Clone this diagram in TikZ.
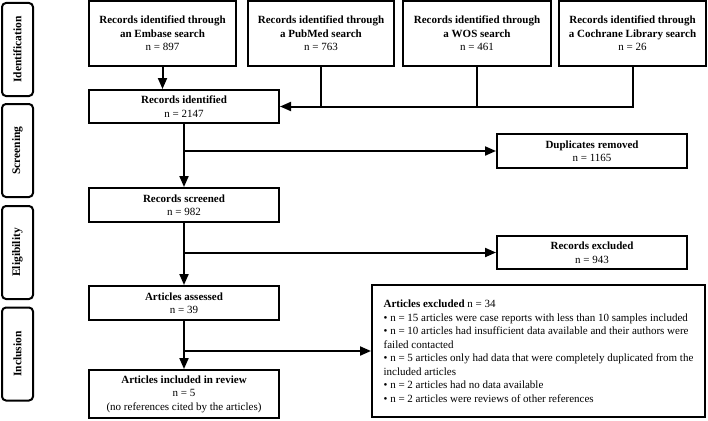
\documentclass[tikz,border=0pt]{standalone}
\usepackage{fontspec}
\setmainfont{Liberation Serif}
\usetikzlibrary{arrows.meta}
\begin{document}
\begin{tikzpicture}[x=1pt,y=-1pt,
  every node/.style={font=\fontsize{11}{13.5}\selectfont},
  box/.style={draw, line width=2pt, inner sep=2pt, align=center, anchor=center},
  side/.style={draw, line width=2pt, rounded corners=4pt, minimum width=31pt, minimum height=93pt, inner sep=0pt, anchor=center},
  lbl/.style={rotate=90, font=\fontsize{11.5}{13.5}\selectfont\bfseries},
  conn/.style={line width=2pt},
  arr/.style={conn, -{Triangle[length=11pt,width=9pt]}}]
\useasboundingbox (0,0) rectangle (708,420);
% side labels
\node[side] (sid) at (17.5,49.5) {};
\node[lbl] (sidt) at (sid.center) {Identification};
\node[side] (ssc) at (17.5,150.5) {};
\node[lbl] (ssct) at (ssc.center) {Screening};
\node[side] (sel) at (17.5,252.5) {};
\node[lbl] (selt) at (sel.center) {Eligibility};
\node[side] (sin) at (17.5,354) {};
\node[lbl] (sint) at (sin.center) {Inclusion};
% top boxes
\node[box, minimum width=147pt, minimum height=65pt] (emb) at (162.5,33.5) {\textbf{Records identified through}\\\textbf{an Embase search}\\n = 897};
\node[box, minimum width=146pt, minimum height=65pt] (pub) at (321,33.5) {\textbf{Records identified through}\\\textbf{a PubMed search}\\n = 763};
\node[box, minimum width=148pt, minimum height=65pt] (wos) at (477,33.5) {\textbf{Records identified through}\\\textbf{a WOS search}\\n = 461};
\node[box, minimum width=147pt, minimum height=65pt] (coch) at (632.5,33.5) {\textbf{Records identified through}\\\textbf{a Cochrane Library search}\\n = 26};
% main column
\node[box, minimum width=190pt, minimum height=33pt] (rid) at (184,106.5) {\textbf{Records identified}\\n = 2147};
\node[box, minimum width=190pt, minimum height=34pt] (rsc) at (184,205) {\textbf{Records screened}\\n = 982};
\node[box, minimum width=190pt, minimum height=34pt] (aas) at (184,303) {\textbf{Articles assessed}\\n = 39};
\node[box, minimum width=190pt, minimum height=48pt] (ain) at (184,394) {\textbf{Articles included in review}\\n = 5\\(no references cited by the articles)};
% right column
\node[box, minimum width=190pt, minimum height=34pt] (dup) at (592,151) {\textbf{Duplicates removed}\\n = 1165};
\node[box, minimum width=190pt, minimum height=33pt] (rex) at (592,252.5) {\textbf{Records excluded}\\n = 943};
\node[box, minimum width=333pt, minimum height=132pt, align=left, inner sep=5pt] (aex) at (538.5,351) {\textbf{Articles excluded} n = 34\\
• n = 15 articles were case reports with less than 10 samples included\\
• n = 10 articles had insufficient data available and their authors were\\
failed contacted\\
• n = 5 articles only had data that were completely duplicated from the\\
included articles\\
• n = 2 articles had no data available\\
• n = 2 articles were reviews of other references};
% connectors
\draw[arr] (emb.south) -- (emb.south |- rid.north);
\draw[arr] (pub.south) |- (rid.east);
\draw[conn] (coch.south) |- (pub.south |- rid.east);
\draw[conn] (wos.south) -- (wos.south |- rid.east);
\coordinate (b1) at (rid.south |- dup.west);
\coordinate (b2) at (rsc.south |- rex.west);
\coordinate (b3) at (aas.south |- aex.west);
\draw[arr] (rid.south) -- (rsc.north);
\draw[arr] (b1) -- (dup.west);
\draw[arr] (rsc.south) -- (aas.north);
\draw[arr] (b2) -- (rex.west);
\draw[arr] (aas.south) -- (ain.north);
\draw[arr] (b3) -- (aex.west);
\end{tikzpicture}
\end{document}
